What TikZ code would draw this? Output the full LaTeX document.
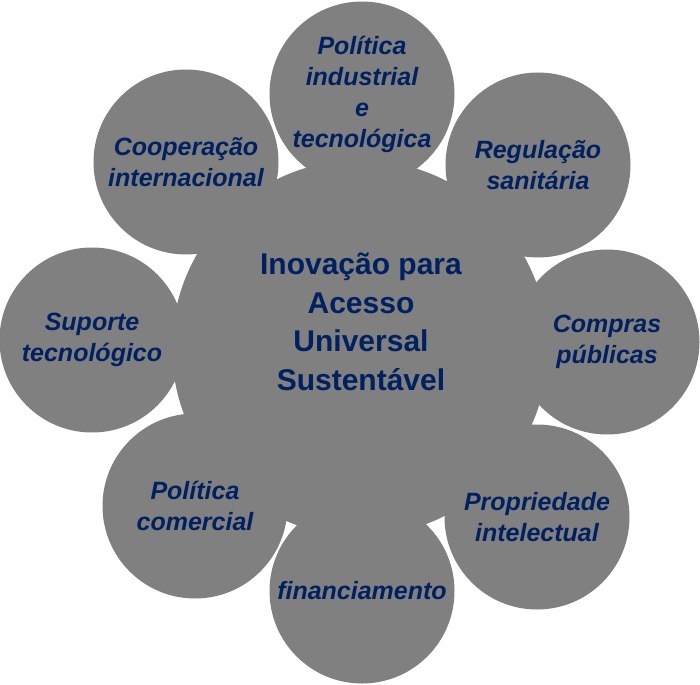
\documentclass[tikz,border=0pt]{standalone}
\usepackage{fontspec}
\setmainfont{Liberation Sans}
\definecolor{petalgray}{RGB}{128,128,128}
\definecolor{navytext}{RGB}{0,32,96}

\begin{document}
\begin{tikzpicture}[x=1pt, y=-1pt,
    hub/.style={circle, fill=petalgray, inner sep=0pt, minimum size=376pt},
    hubtext/.style={text=navytext, align=center, font=\fontsize{30}{38.5}\selectfont\bfseries},
    petal/.style={circle, fill=petalgray, inner sep=0pt, minimum size=185pt,
      text=navytext, align=center, font=\fontsize{25}{31}\selectfont\bfseries\itshape}]
  \useasboundingbox (0,0) rectangle (700,684);
  % central circle
  \node[hub] (hub) at (360,348) {};
  \node[hubtext] (hubtxt) at (361,322) {Inovação para\\Acesso\\Universal\\Sustentável};
  % outer circles
  \node[petal] (industrial) at (362,94) {Política\\industrial\\e\\tecnológica};
  \node[petal] (regulacao) at (538,165) {Regulação\\sanitária};
  \node[petal] (compras) at (607,342) {Compras\\públicas};
  \node[petal] (propriedade) at (537,517) {Propriedade\\intelectual};
  \node[petal] (financiamento) at (362,591) {financiamento};
  \node[petal] (comercial) at (195,506) {Política\\comercial};
  \node[petal] (suporte) at (92,340) {Suporte\\tecnológico};
  \node[petal] (cooperacao) at (186,162) {Cooperação\\internacional};
\end{tikzpicture}
\end{document}
